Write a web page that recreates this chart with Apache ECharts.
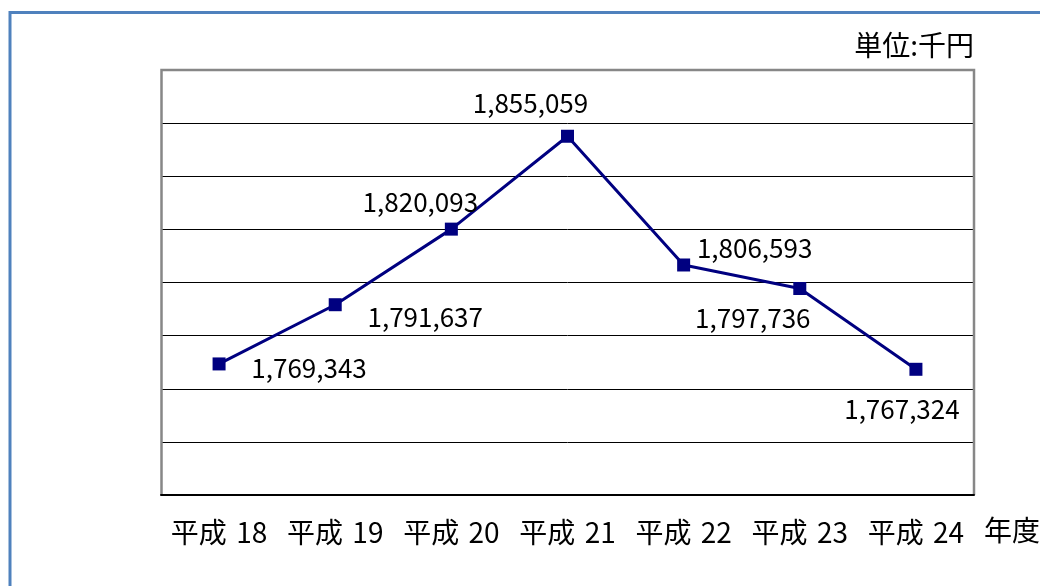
<!DOCTYPE html>
<html><head><meta charset="utf-8">
<script src="https://cdn.jsdelivr.net/npm/echarts@6/dist/echarts.min.js"></script>
<style>html,body{margin:0;padding:0;background:#fff}#c{width:1040px;height:586px}</style>
</head><body><div id="c"></div>
<script>
const categories = ['平成 18', '平成 19', '平成 20', '平成 21', '平成 22', '平成 23', '平成 24'];
const values = [1769343, 1791637, 1820093, 1855059, 1806593, 1797736, 1767324];
const labelOffsets = [[90, 4], [90, 12], [-31, -27], [-37, -33], [71, -17], [-47, 30], [-14, 40]];
const unitText = '単位:千円';
const axisNameText = '年度';

const FONT = '"Noto Sans CJK JP", sans-serif';
const fmt = v => String(v).replace(/\B(?=(\d{3})+(?!\d))/g, ',');

const G = {left: 161, top: 70, right: 66, bottom: 91};
const W = 1040, H = 586;
const gx0 = G.left + 0.5, gy0 = G.top, gx1 = W - G.right, gy1 = H - G.bottom;

const chart = echarts.init(document.getElementById('c'), null, {renderer: 'canvas'});
chart.setOption({
  animation: false,
  backgroundColor: '#fff',
  grid: G,
  graphic: [
    {type: 'rect', shape: {x: 10, y: 12.5, width: 1200, height: 800}, style: {fill: 'none', stroke: '#4f81bd', lineWidth: 3}, z: 100},
    {type: 'polyline', shape: {points: [[gx0, gy1], [gx0, gy0], [gx1, gy0], [gx1, gy1]]}, style: {fill: 'none', stroke: '#878787', lineWidth: 2.5}, z: 5},
    {type: 'text', right: 66, top: 31, style: {text: unitText, font: '28px ' + FONT, fill: '#000'}},
    {type: 'text', left: 984, top: 516, style: {text: axisNameText, font: '28px ' + FONT, fill: '#000'}}
  ],
  xAxis: {
    type: 'category', data: categories, boundaryGap: true,
    axisLine: {lineStyle: {color: '#000', width: 2}},
    axisTick: {inside: true, length: 9, lineStyle: {color: '#000', width: 2}},
    axisLabel: {interval: 0, hideOverlap: false, color: '#000', fontSize: 28, fontFamily: FONT, margin: 23, formatter: s => s.replace(' ', '\u2004')},
    z: 6
  },
  yAxis: {
    type: 'value', min: 1720000, max: 1880000, interval: 20000,
    axisLine: {show: false}, axisTick: {show: false}, axisLabel: {show: false},
    splitLine: {lineStyle: {color: '#000', width: 1}}
  },
  series: [{
    type: 'line', data: values.map((v, i) => ({value: v, label: {offset: labelOffsets[i]}})),
    symbol: 'rect', symbolSize: 13,
    lineStyle: {color: '#000080', width: 3},
    itemStyle: {color: '#000080'},
    label: {show: true, position: 'inside', color: '#000', fontSize: 26, fontFamily: FONT, formatter: p => fmt(p.value)},
    z: 10
  }]
});
</script></body></html>
